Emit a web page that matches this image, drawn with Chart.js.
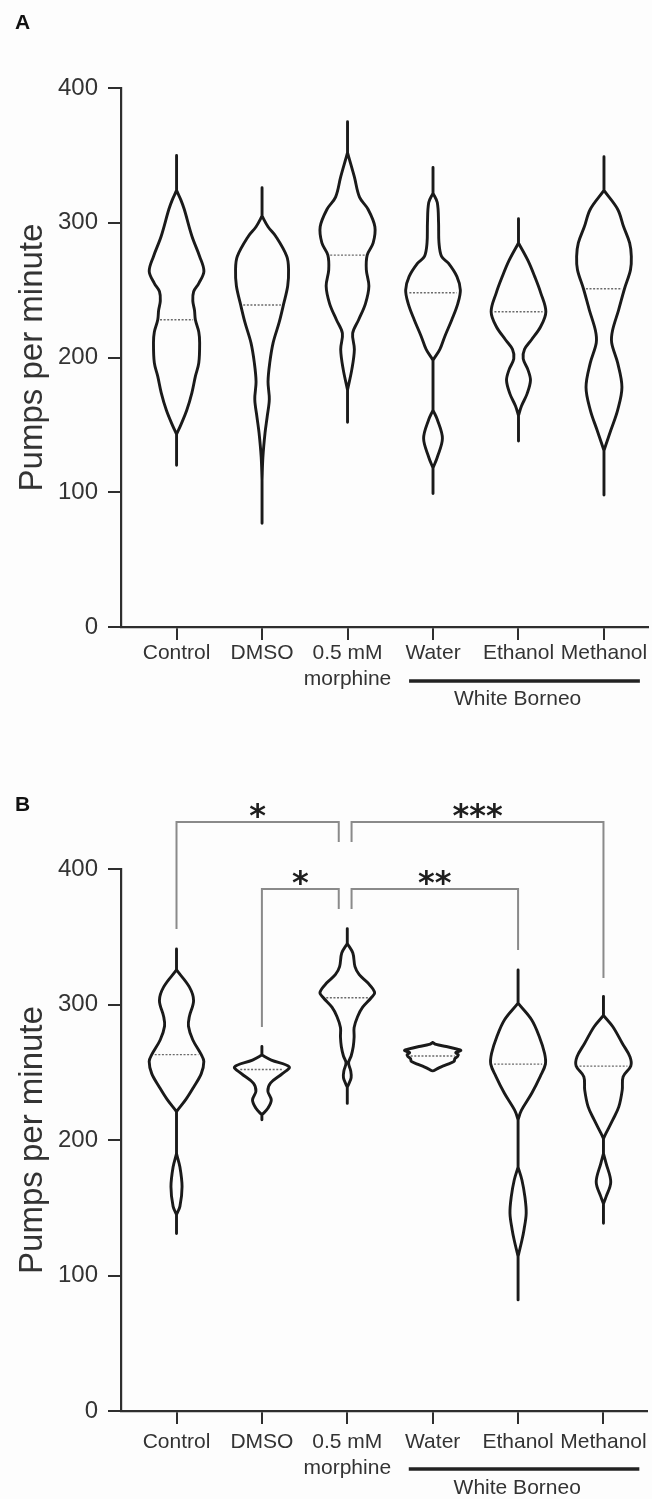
<!DOCTYPE html>
<html><head><meta charset="utf-8">
<script src="https://cdn.jsdelivr.net/npm/chart.js@4.4.1/dist/chart.umd.min.js"></script>
<style>
html,body{margin:0;padding:0;background:#fdfdfd;}
#wrap{position:relative;width:652px;height:1499px;overflow:hidden;background:#fdfdfd;}
canvas{position:absolute;left:0;}
</style></head><body>
<div id="wrap">
<canvas id="cA" width="652" height="740" style="top:0px"></canvas>
<canvas id="cB" width="652" height="759" style="top:740px"></canvas>
</div>
<script>
// ---------------- data ----------------
const categories = ['Control', 'DMSO', ['0.5 mM', 'morphine'], 'Water', 'Ethanol', 'Methanol'];
const categoryPos = [1, 2, 3, 4, 5, 6];
const yTicks = [0, 100, 200, 300, 400];
const yTitle = 'Pumps per minute';
const groupLabel = 'White Borneo';
const groupSpan = [3.72, 6.42];
const groupLabelPos = 4.99;

// medians (dotted lines)
const medianA = [228, 239, 276, 248, 234, 251];
const medianB = [263, 252, 305, 262, 256, 254.5];

// violin outlines: [value, half-width in category units], top to bottom
const aControl = [[350,0],[324,0],[317,.05],[310,.09],[290,.18],[275,.27],[264,.32],[255,.26],[249,.2],[242,.19],[235,.21],[228,.22],[219,.26],[211,.27],[196,.26],[186,.22],[174,.18],[161,.12],[150,.05],[143,0],[120,0]];
const aDMSO = [[326,0],[305,0],[297,.07],[290,.16],[275,.29],[265,.31],[253,.3],[239,.25],[226,.2],[211,.13],[196,.09],[182,.07],[169,.085],[156,.06],[144,.035],[126,.01],[109,0],[77,0]];
const aMorphine = [[375,0],[352,0],[334,.08],[319,.14],[310,.24],[297,.32],[285,.3],[276,.23],[265,.22],[253,.25],[240,.21],[228,.13],[218,.06],[206,.08],[191,.05],[176,0],[152,0]];
const aWater = [[341,0],[322,0],[315,.05],[300,.065],[285,.07],[275,.1],[270,.18],[260,.28],[250,.32],[240,.29],[228,.22],[216,.14],[206,.08],[198,0],[161,0],[154,.05],[140,.11],[126,.05],[118,0],[99,0]];
const aEthanol = [[303,0],[285,0],[272,.11],[260,.19],[248,.26],[234,.32],[223,.26],[213,.15],[206,.07],[199,.055],[191,.11],[183,.14],[173,.1],[164,.035],[157,0],[138,0]];
const aMethanol = [[349,0],[324,0],[310,.16],[297,.23],[285,.3],[275,.32],[265,.31],[251,.24],[235,.17],[220,.1],[211,.09],[196,.16],[178,.21],[161,.16],[146,.08],[131,0],[98,0]];

const bControl = [[341,0],[325.5,0],[313,.15],[303,.2],[291,.15],[284,.14],[274,.19],[263,.29],[258,.32],[249,.29],[239,.2],[230,.11],[221,0],[190,0],[180,.04],[165.5,.065],[151,.04],[145,0],[131,0]];
const bDMSO = [[269,0],[262.7,0],[259,.11],[254,.32],[249,.24],[242,.1],[236,.07],[229.5,.11],[223.4,.07],[218.5,0],[215,0]];
const bMorphine = [[356,0],[345,0],[338,.065],[328,.09],[322,.14],[316,.24],[309,.32],[305,.28],[298,.18],[291,.12],[283,.08],[276,.08],[269,.07],[262,.045],[257,.015],[251,.04],[246,.045],[241,.015],[239,0],[227,0]];
const bWater = [[272,0],[270.5,.04],[269,.16],[267,.29],[266,.33],[264.5,.27],[263,.3],[261.6,.29],[260,.26],[258,.25],[256,.18],[254,.1],[252.5,.05],[251,0]];
const bEthanol = [[325.5,0],[301,0],[288.6,.16],[276,.25],[264,.31],[256,.32],[247,.26],[234.5,.16],[222,.04],[215,0],[180,0],[170.5,.045],[158,.08],[146,.095],[134,.07],[126,.045],[114,0],[82,0]];
const bMethanol = [[306,0],[292,0],[283.6,.11],[271.4,.22],[261.5,.31],[254.6,.32],[246.7,.23],[237,.22],[224.6,.18],[215,.11],[205,.03],[201,0],[190,0],[183,.03],[169,.085],[158,.03],[153,0],[138.5,0]];

const violinsA = [aControl, aDMSO, aMorphine, aWater, aEthanol, aMethanol];
const violinsB = [bControl, bDMSO, bMorphine, bWater, bEthanol, bMethanol];

// significance brackets (panel B)
const bracketFrom = [1, 3.05, 2, 3.05];
const bracketTo = [2.9, 6, 2.9, 5];
const bracketTop = [434.7, 434.7, 385.2, 385.2];
const bracketFromEnd = [355.7, 420, 283.4, 370.5];
const bracketToEnd = [420, 319.6, 370.5, 340.2];
const bracketStars = ['*', '***', '*', '**'];

// ---------------- helpers ----------------
const FONT = '"Liberation Sans", Arial, sans-serif';
Chart.defaults.font.family = FONT;
Chart.defaults.color = '#333';

// expand a side so straight zero-width tails stay straight under spline smoothing
function expandSide(side) {
  const out = [];
  for (let i = 0; i < side.length; i++) {
    const [v, w] = side[i];
    out.push([v, w]);
    if (i < side.length - 1) {
      const [v2, w2] = side[i + 1];
      if (w === 0 && w2 === 0) {
        const d = (v2 - v) * 0.02;
        out.push([v + d, 0]);
        out.push([v2 - d, 0]);
      }
    }
  }
  return out;
}
function violinPoints(center, prof) {
  const side = expandSide(prof);
  const right = side.map(([v, w]) => ({x: center + w, y: v}));
  const left = side.slice().reverse().map(([v, w]) => ({x: center - w, y: v}));
  return right.concat(left.slice(1));
}
function widthAt(prof, v) {
  for (let i = 0; i < prof.length - 1; i++) {
    const [v1, w1] = prof[i], [v2, w2] = prof[i + 1];
    if (v <= v1 && v >= v2) {
      const t = (v1 - v) / ((v1 - v2) || 1);
      return w1 + (w2 - w1) * t;
    }
  }
  return 0;
}

function buildDatasets(violins, medians, withBrackets) {
  const ds = [];
  violins.forEach((prof, i) => {
    ds.push({
      data: violinPoints(categoryPos[i], prof),
      borderColor: '#1a1a1a', borderWidth: 2.9, tension: 0.35,
      pointRadius: 0, fill: false, borderJoinStyle: 'round', borderCapStyle: 'round'
    });
  });
  medians.forEach((m, i) => {
    const w = widthAt(violins[i], m) * 0.88;
    ds.push({
      data: [{x: categoryPos[i] - w, y: m}, {x: categoryPos[i] + w, y: m}],
      borderColor: '#6a6a6a', borderWidth: 1.4, borderDash: [2, 1.6],
      pointRadius: 0, fill: false, tension: 0
    });
  });
  if (withBrackets) {
    bracketFrom.forEach((x1, i) => {
      ds.push({
        data: [{x: x1, y: bracketFromEnd[i]}, {x: x1, y: bracketTop[i]},
               {x: bracketTo[i], y: bracketTop[i]}, {x: bracketTo[i], y: bracketToEnd[i]}],
        borderColor: '#8a8a8a', borderWidth: 2, pointRadius: 0, fill: false,
        tension: 0, clip: false, borderJoinStyle: 'miter'
      });
    });
  }
  return ds;
}

const annotPlugin = {
  id: 'annot',
  afterDraw(chart, args, o) {
    const {ctx} = chart;
    const x = chart.scales.x, y = chart.scales.y;
    const base = y.getPixelForValue(0);
    ctx.save();
    // group bar + label
    ctx.strokeStyle = '#222';
    ctx.lineWidth = 3.5;
    ctx.beginPath();
    ctx.moveTo(x.getPixelForValue(groupSpan[0]), base + o.groupDy);
    ctx.lineTo(x.getPixelForValue(groupSpan[1]), base + o.groupDy);
    ctx.stroke();
    ctx.fillStyle = '#333';
    ctx.font = '21px ' + FONT;
    ctx.textAlign = 'center';
    ctx.textBaseline = 'middle';
    ctx.fillText(groupLabel, x.getPixelForValue(groupLabelPos), base + o.groupTextDy);
    // panel letter
    ctx.font = 'bold 21px ' + FONT;
    ctx.fillStyle = '#111';
    ctx.textAlign = 'left';
    ctx.fillText(o.letter, 15, o.letterY);
    // stars
    if (o.stars) {
      ctx.font = 'bold 32px "DejaVu Sans"';
      ctx.fillStyle = '#1e1e1e';
      ctx.textAlign = 'center';
      ctx.textBaseline = 'alphabetic';
      bracketStars.forEach((s, i) => {
        const cx = x.getPixelForValue((bracketFrom[i] + bracketTo[i]) / 2);
        ctx.fillText(s, cx, y.getPixelForValue(bracketTop[i]) + 4);
      });
    }
    ctx.restore();
  }
};

function makeChart(id, violins, medians, p) {
  return new Chart(document.getElementById(id), {
    type: 'line',
    data: {datasets: buildDatasets(violins, medians, p.stars)},
    options: {
      responsive: false, animation: false, devicePixelRatio: 1,
      layout: {padding: {top: p.top, left: 0, right: 4, bottom: 0}},
      plugins: {legend: {display: false}, tooltip: {enabled: false},
        annot: {letter: p.letter, letterY: p.letterY, groupDy: p.groupDy, groupTextDy: p.groupTextDy, stars: p.stars}},
      scales: {
        x: {
          type: 'linear', min: 0.35, max: 6.515,
          afterBuildTicks: s => { s.ticks = categoryPos.map(v => ({value: v})); },
          afterFit: s => { s.height = p.xh; },
          ticks: {callback: (v, i) => categories[i], font: {size: 21, lineHeight: 1.24},
                  color: '#333', padding: p.xpad, maxRotation: 0, autoSkip: false},
          grid: {display: true, drawOnChartArea: false, drawTicks: true, tickLength: 13, color: '#2e2e2e', lineWidth: 2},
          border: {display: true, color: '#2e2e2e', width: 2.2}
        },
        y: {
          type: 'linear', min: 0, max: 400,
          afterBuildTicks: s => { s.ticks = yTicks.map(v => ({value: v})); },
          afterFit: s => { s.width = 121; },
          ticks: {font: {size: 24}, color: '#333', padding: 10},
          grid: {display: true, drawOnChartArea: false, drawTicks: true, tickLength: 13, color: '#2e2e2e', lineWidth: 2},
          border: {display: true, color: '#2e2e2e', width: 2.2},
          title: {display: true, text: yTitle, font: {size: 33}, color: '#333', padding: {top: 13, bottom: 0}}
        }
      }
    },
    plugins: [annotPlugin]
  });
}

makeChart('cA', violinsA, medianA, {top: 88, xh: 113, xpad: 0, letter: 'A', letterY: 23, groupDy: 54, groupTextDy: 72, stars: false});
makeChart('cB', violinsB, medianB, {top: 129, xh: 88, xpad: 5, letter: 'B', letterY: 65, groupDy: 58, groupTextDy: 77, stars: true});
</script>
</body></html>
